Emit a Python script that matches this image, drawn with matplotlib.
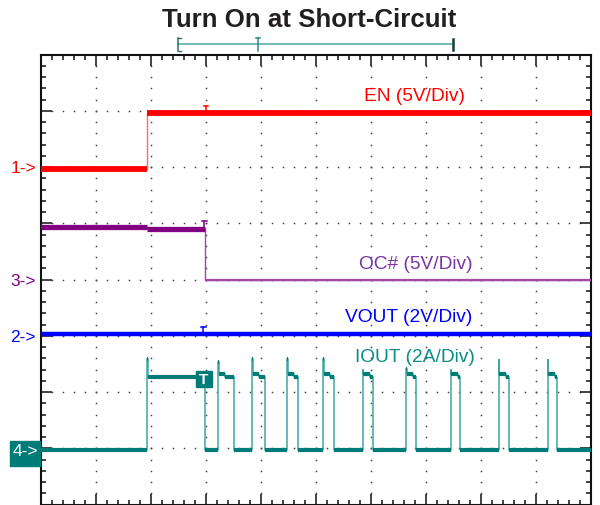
import matplotlib
matplotlib.use("Agg")
import matplotlib.pyplot as plt
from matplotlib.patches import Rectangle

# ---------------- data (time in divisions, physical units per channel) -------------
EN_T = [0.0, 1.92, 1.92, 10.0]
EN_V = [-0.15, -0.15, 4.85, 4.85]          # volts, 5 V/div, ground at div 6

OC_T = [0.0, 1.92, 1.92, 2.98, 2.98, 10.0]
OC_V = [4.72, 4.72, 4.52, 4.52, 0.0, 0.0]  # volts, 5 V/div, ground at div 4

VOUT_T = [0.0, 10.0]
VOUT_V = [0.05, 0.05]                      # volts, 2 V/div, ground at div 3

IOUT_BASE = -0.05                          # amps, 2 A/div, zero at div 1
IOUT_ON = 2.55
PULSE_RISE = [1.93, 3.22, 3.84, 4.47, 5.13, 5.85, 6.64, 7.45, 8.32, 9.21]
PULSE_FALL = [2.98, 3.51, 4.07, 4.67, 5.33, 6.04, 6.81, 7.61, 8.50, 9.39]
PULSE_PEAK = [3.18, 3.08, 3.18, 3.18, 3.18, 2.82, 2.82, 2.82, 3.18, 3.18]
PULSE_SHOULDER = [2.55, 2.65, 2.65, 2.65, 2.65, 2.65, 2.65, 2.65, 2.65, 2.65]

CH_LABELS = ["EN (5V/Div)", "OC# (5V/Div)", "VOUT (2V/Div)", "IOUT (2A/Div)"]
CH_SCALE = [5.0, 5.0, 2.0, 2.0]
CH_OFFSET = [6.0, 4.0, 3.0, 1.0]
CH_MARK = ["1->", "3->", "2->", "4->"]
TRIG_T = 2.98

# ---------------- style ----------------
C_EN, C_EN_E = "#ff0000", "#ff6a6a"
C_OC, C_OC_E, C_OC_TXT = "#820082", "#a04aa6", "#7a35a0"
C_VO = "#0000ff"
C_IO, C_IO_E, C_IO_TXT = "#007c78", "#3fa8a2", "#0a8c88"

plt.rcParams['font.family'] = ['Liberation Sans', 'DejaVu Sans']

fig = plt.figure(figsize=(6.0, 5.06), dpi=100)
ax = fig.add_axes([41/600, 0.5/506, 550/600, 449.8/506])
ax.set_xlim(0, 10)
ax.set_ylim(0, 8)

for s in ax.spines.values():
    s.set_linewidth(1.5)
    s.set_color("#111111")
ax.set_xticks(range(0, 11))
ax.set_yticks(range(0, 9))
ax.set_xticks([i / 5 for i in range(51)], minor=True)
ax.set_yticks([i / 5 for i in range(41)], minor=True)
ax.tick_params(which='both', direction='in', top=True, right=True,
               labelbottom=False, labelleft=False, color="#111111")
ax.tick_params(which='major', length=8.2, width=1.1)
ax.tick_params(which='minor', length=3.4, width=1.1)

# dotted graticule
gx, gy = [], []
for xm in range(1, 10):
    for k in range(1, 40):
        gx.append(xm); gy.append(k / 5)
for ym in range(1, 8):
    for k in range(1, 50):
        gx.append(k / 5); gy.append(ym)
ax.plot(gx, gy, linestyle='none', marker='s', markersize=1.1,
        color="#444444", markeredgewidth=0, zorder=1)


def to_div(vals, ch):
    return [v / CH_SCALE[ch] + CH_OFFSET[ch] for v in vals]


def draw_trace(t, v, col_h, col_e, lw_h, lw_e, z=3):
    ax.plot(t, v, color=col_e, lw=lw_e, zorder=z, solid_joinstyle='miter')
    for i in range(len(t) - 1):
        if v[i] == v[i + 1] and t[i + 1] > t[i]:
            ax.plot([t[i], t[i + 1]], [v[i], v[i + 1]], color=col_h, lw=lw_h,
                    zorder=z + 0.1, solid_capstyle='butt')


# EN
draw_trace(EN_T, to_div(EN_V, 0), C_EN, C_EN_E, 4.2, 1.0)
# OC#
oc = to_div(OC_V, 1)
draw_trace(OC_T[:4], oc[:4], C_OC, C_OC_E, 3.8, 1.0)
draw_trace(OC_T[3:], oc[3:], C_OC_E, C_OC_E, 1.6, 1.0)
# VOUT
draw_trace(VOUT_T, to_div(VOUT_V, 2), C_VO, C_VO, 3.2, 1.0)
# IOUT
it, iv = [0.0], [IOUT_BASE]
for r, f, p, s in zip(PULSE_RISE, PULSE_FALL, PULSE_PEAK, PULSE_SHOULDER):
    it += [r, r, r + 0.012, r + 0.012, r + 0.13, r + 0.13, f, f]
    iv += [IOUT_BASE, p, p, s, s, IOUT_ON, IOUT_ON, IOUT_BASE]
it.append(10.0); iv.append(IOUT_BASE)
draw_trace(it, to_div(iv, 3), C_IO, C_IO_E, 3.0, 1.1)

# small trigger "T" marks on traces
def tmark(x, ytop, ystem, col):
    ax.plot([x - 0.045, x + 0.045], [ytop, ytop], color=col, lw=1.1, zorder=5, clip_on=False)
    ax.plot([x, x], [ytop, ystem], color=col, lw=1.1, zorder=5, clip_on=False)

tmark(TRIG_T + 0.02, 7.094, 6.98, C_EN)
tmark(TRIG_T - 0.01, 5.051, 4.94, C_OC)
tmark(TRIG_T - 0.03, 3.159, 3.04, C_VO)

# T box on IOUT
ax.add_patch(Rectangle((TRIG_T - 0.165, 2.087), 0.29, 0.295, color=C_IO, zorder=6))
ax.text(TRIG_T - 0.02, 2.235, "T", color="white", fontsize=11, fontweight='bold',
        ha='center', va='center', zorder=7)

# channel labels
lab_pos = [(6.79, 7.28), (6.82, 4.288), (6.68, 3.35), (6.80, 2.626)]
lab_col = [C_EN, C_OC_TXT, C_VO, C_IO_TXT]
for (x, y), txt, c in zip(lab_pos, CH_LABELS, lab_col):
    ax.text(x, y, txt, color=c, fontsize=13.8, ha='center', va='center', zorder=8)

# left channel markers
mark_col = [C_EN, C_OC, C_VO]
for i in range(3):
    ax.text(-0.09, CH_OFFSET[i] - 0.01, CH_MARK[i], color=mark_col[i], fontsize=12.5,
            ha='right', va='center', clip_on=False)
fig.add_artist(Rectangle((10/600, 1 - 466.7/506), 30/600, 25/506,
                         transform=fig.transFigure, color=C_IO))
fig.text(25/600, 1 - 452/506, CH_MARK[3], color="white", fontsize=12.5,
         ha='center', va='center')

# trigger/memory bracket above the axes
yb = 8.185
ax.plot([2.496, 7.485], [yb, yb], color="#4aa9a2", lw=1.1, clip_on=False)
ax.plot([2.496, 2.496], [8.292, 8.066], color="#2f6f6a", lw=1.1, clip_on=False)
ax.plot([2.496, 2.54], [8.292, 8.292], color="#2f6f6a", lw=1.0, clip_on=False)
ax.plot([2.496, 2.54], [8.066, 8.066], color="#2f6f6a", lw=1.0, clip_on=False)
ax.plot([7.485, 7.485], [8.28, 8.075], color="#123c3a", lw=1.8, clip_on=False)
ax.plot([3.91, 3.99], [8.292, 8.292], color="#2a8c86", lw=1.1, clip_on=False)
ax.plot([3.95, 3.95], [8.292, 8.066], color="#2a8c86", lw=1.1, clip_on=False)

fig.text(308.7/600, 1 - 27.3/506, "Turn On at Short-Circuit", fontsize=18.6,
         fontweight='bold', color="#231f20", ha='center', va='baseline')

fig.savefig("out.png", dpi=100)
